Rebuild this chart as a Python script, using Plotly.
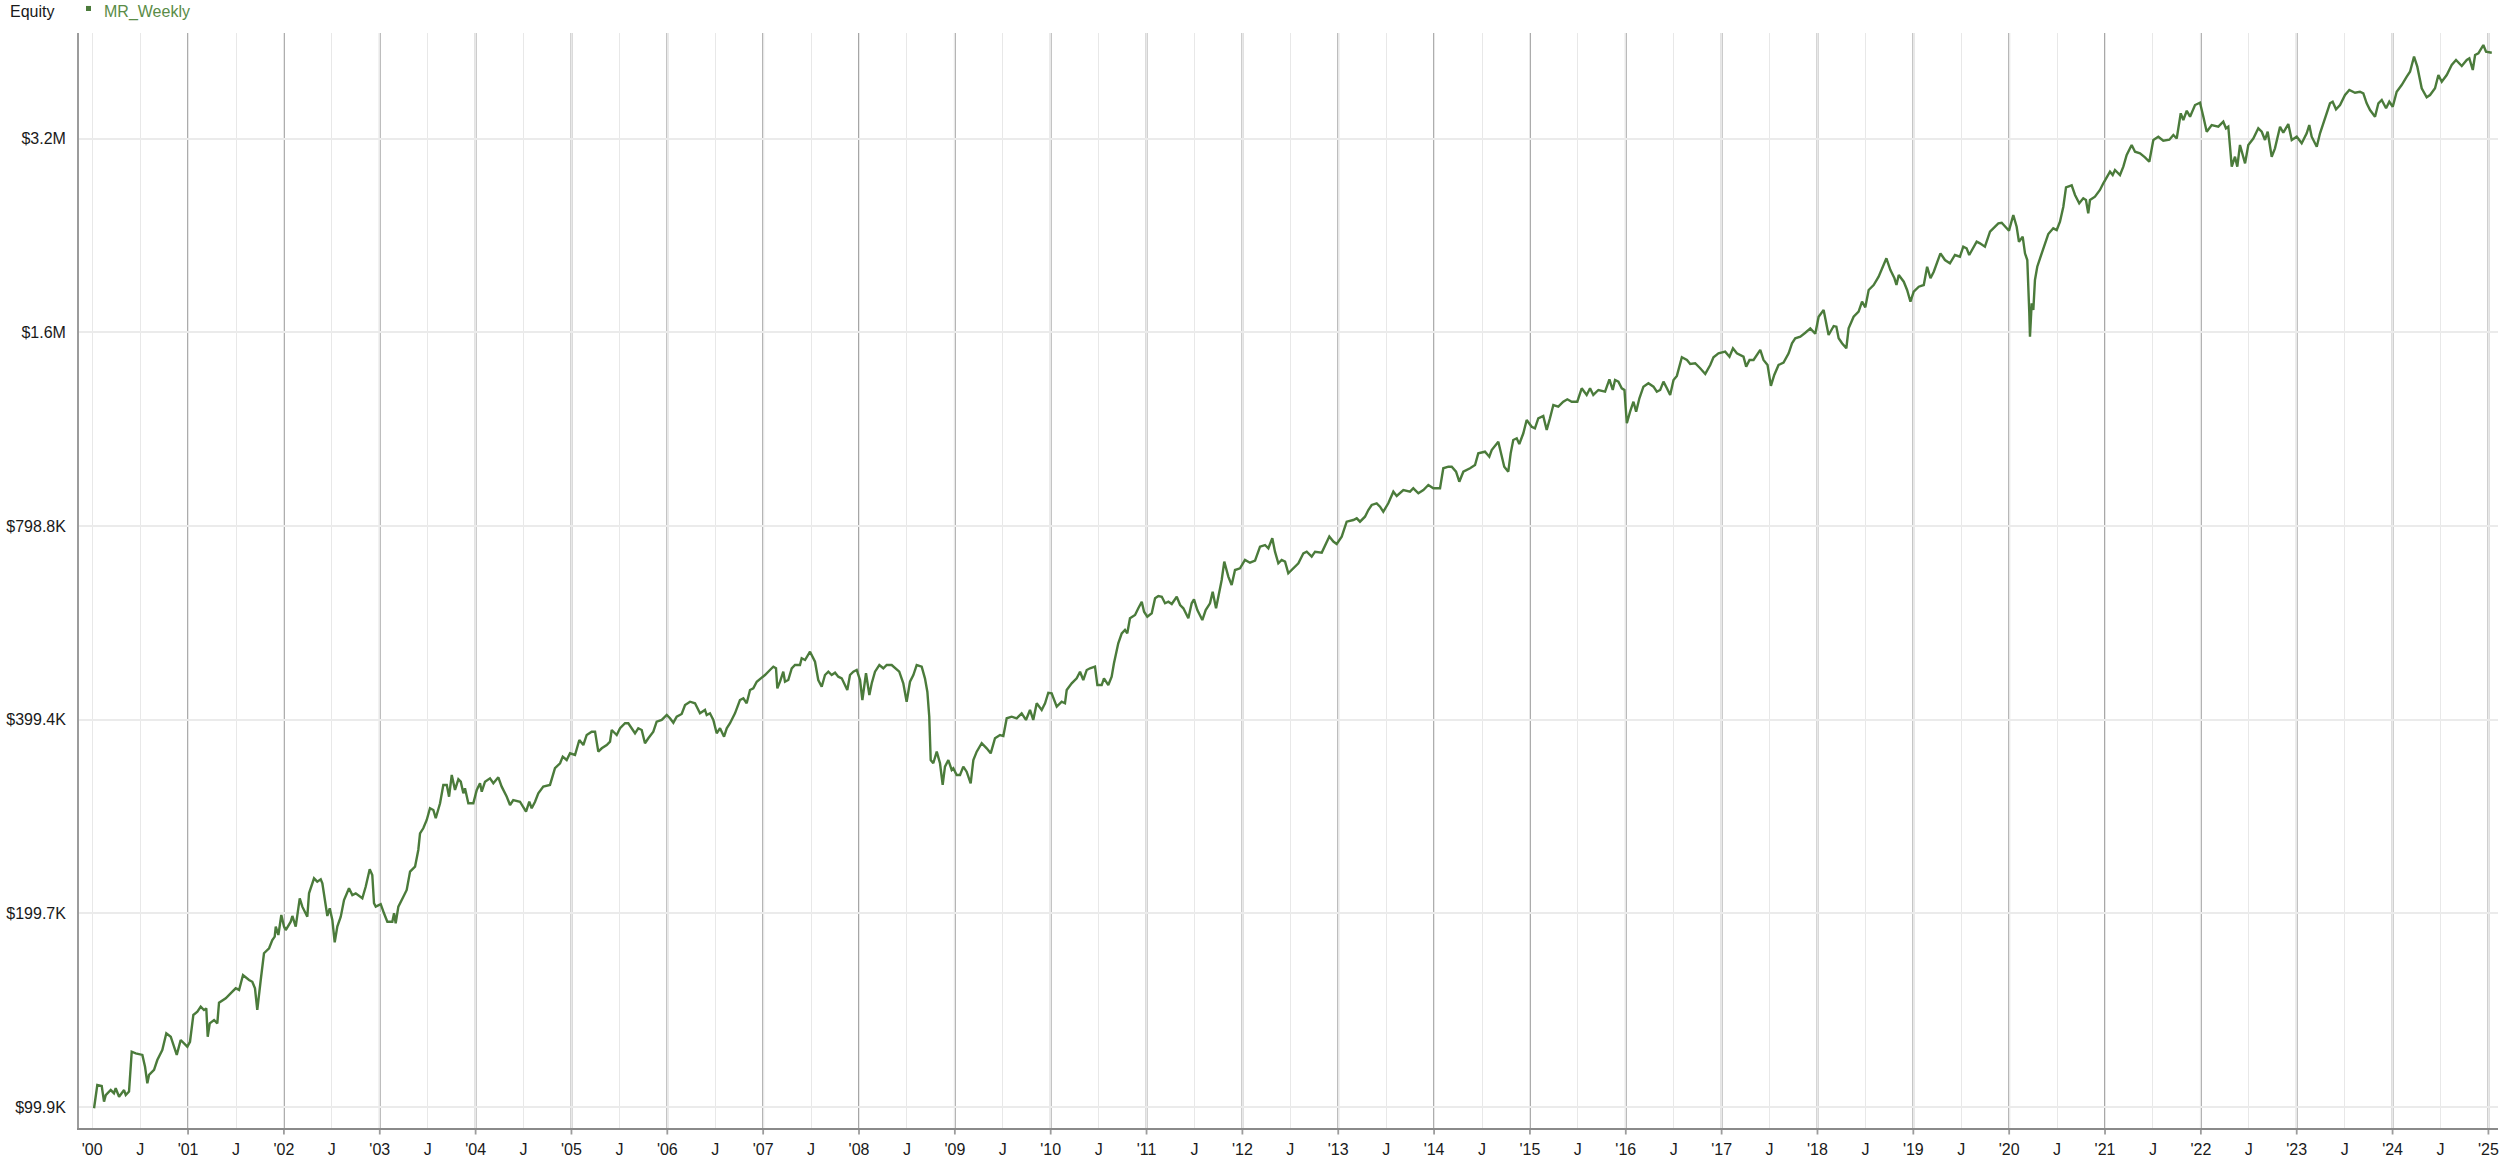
import plotly.graph_objects as go

# time in decimal years, equity in thousands of dollars
t_years = [
2000.019,2000.053,2000.099,2000.123,2000.141,2000.193,2000.227,2000.245,2000.280,2000.332,2000.350,2000.384,
2000.412,2000.454,2000.523,2000.551,2000.575,2000.593,2000.645,2000.679,2000.731,2000.773,2000.819,2000.853,
2000.882,2000.923,2000.958,2000.992,2001.020,2001.055,2001.097,2001.132,2001.166,2001.190,2001.205,2001.226,
2001.271,2001.305,2001.323,2001.393,2001.462,2001.497,2001.532,2001.573,2001.636,2001.670,2001.698,2001.722,
2001.758,2001.792,2001.845,2001.879,2001.904,2001.915,2001.942,2001.973,2002.001,2002.019,2002.071,2002.088,
2002.123,2002.165,2002.192,2002.244,2002.262,2002.314,2002.348,2002.384,2002.401,2002.436,2002.453,2002.478,
2002.505,2002.530,2002.557,2002.593,2002.627,2002.679,2002.714,2002.749,2002.818,2002.853,2002.895,2002.922,
2002.940,2002.958,2003.010,2003.044,2003.079,2003.131,2003.149,2003.166,
2003.194,2003.246,2003.281,2003.316,2003.368,2003.402,2003.420,2003.454,2003.490,2003.524,2003.559,2003.584,
2003.629,2003.663,2003.699,2003.723,2003.751,2003.785,2003.820,2003.845,2003.872,2003.889,2003.924,2003.976,
2004.012,2004.046,2004.064,2004.098,2004.150,2004.185,2004.237,2004.272,2004.325,2004.359,2004.393,2004.463,
2004.498,2004.526,2004.560,2004.585,2004.620,2004.654,2004.706,2004.776,2004.828,2004.881,2004.909,2004.950,
2004.985,2005.037,2005.082,2005.124,2005.159,2005.211,2005.246,2005.280,2005.316,2005.368,2005.402,2005.420,
2005.472,2005.507,2005.559,2005.593,2005.663,2005.697,2005.733,2005.767,2005.802,2005.854,2005.889,2005.942,
2005.994,2006.028,2006.063,2006.098,2006.150,2006.185,2006.237,2006.289,2006.341,2006.393,2006.411,2006.445,
2006.480,2006.515,2006.550,2006.592,2006.620,2006.654,2006.706,2006.758,2006.793,2006.828,2006.863,2006.897,
2006.933,2006.967,
2007.019,2007.071,2007.106,2007.134,2007.148,2007.176,2007.210,2007.228,2007.262,2007.298,2007.332,2007.384,
2007.402,2007.437,2007.489,2007.541,2007.575,2007.611,2007.645,2007.680,2007.715,2007.750,2007.784,2007.820,
2007.854,2007.878,2007.906,2007.941,2007.976,2008.011,2008.035,2008.052,2008.073,2008.108,2008.133,2008.167,
2008.212,2008.254,2008.289,2008.341,2008.376,2008.420,2008.462,2008.497,2008.532,2008.567,2008.602,2008.654,
2008.688,2008.713,2008.733,2008.748,2008.775,2008.811,2008.845,2008.873,2008.897,2008.932,2008.967,2008.984,
2009.019,2009.054,2009.088,2009.123,2009.165,2009.193,2009.228,2009.280,2009.332,2009.374,2009.419,2009.471,
2009.506,2009.541,2009.593,2009.645,2009.697,2009.742,2009.784,2009.818,2009.854,2009.906,2009.941,2009.975,
2010.010,2010.063,
2010.115,2010.149,2010.167,2010.219,2010.271,2010.306,2010.340,2010.376,2010.410,2010.462,2010.487,2010.532,
2010.556,2010.601,2010.636,2010.660,2010.705,2010.741,2010.775,2010.799,2010.827,2010.880,2010.914,2010.950,
2010.974,2011.008,2011.054,2011.089,2011.123,2011.159,2011.193,2011.228,2011.263,2011.315,2011.350,2011.384,
2011.436,2011.471,2011.495,2011.530,2011.582,2011.617,2011.662,2011.690,2011.725,2011.749,2011.784,2011.811,
2011.853,2011.888,2011.923,2011.975,2012.027,2012.079,2012.132,2012.184,2012.236,2012.271,2012.312,2012.340,
2012.375,2012.410,2012.445,2012.479,2012.532,2012.584,2012.636,2012.671,2012.723,2012.758,2012.828,2012.862,
2012.907,2012.949,2012.984,2013.036,2013.088,2013.157,2013.193,2013.227,2013.279,2013.314,2013.349,2013.401,
2013.436,2013.470,2013.522,2013.575,2013.610,2013.679,2013.749,2013.783,2013.836,2013.888,2013.940,2013.992,
2014.062,2014.096,2014.149,2014.184,2014.229,2014.263,2014.305,2014.375,2014.427,2014.461,2014.531,2014.576,
2014.601,2014.670,
2014.732,2014.774,2014.799,2014.826,2014.862,2014.889,2014.931,2014.966,2015.018,2015.052,2015.087,2015.139,
2015.175,2015.209,2015.244,2015.296,2015.348,2015.390,2015.436,2015.494,2015.540,2015.592,2015.627,2015.661,
2015.714,2015.784,2015.829,2015.864,2015.888,2015.923,2015.958,2015.986,2016.011,2016.045,2016.080,2016.108,
2016.142,2016.184,2016.236,2016.289,2016.324,2016.359,2016.393,2016.429,2016.463,2016.498,2016.533,2016.585,
2016.638,2016.672,2016.724,2016.776,2016.829,2016.881,2016.915,2016.967,2017.037,2017.082,2017.118,2017.159,
2017.228,2017.256,2017.291,2017.333,2017.403,2017.437,2017.479,2017.514,2017.549,2017.594,2017.646,2017.699,
2017.734,2017.768,2017.821,2017.873,2017.925,2017.977,2018.012,2018.064,2018.116,2018.169,2018.197,2018.221,
2018.256,2018.301,2018.325,2018.377,2018.429,2018.465,2018.499,2018.534,2018.586,2018.638,2018.674,2018.719,
2018.761,2018.803,2018.824,2018.848,2018.900,2018.935,2018.970,2019.004,2019.057,2019.109,2019.144,2019.179,
2019.213,2019.249,2019.283,2019.330,2019.382,2019.434,2019.486,
2019.521,2019.556,2019.583,2019.625,2019.661,2019.695,2019.747,2019.800,2019.852,2019.887,2019.922,2019.956,
2019.998,2020.043,2020.078,2020.102,2020.141,2020.165,2020.189,2020.210,2020.217,2020.235,2020.252,2020.269,
2020.293,2020.322,2020.356,2020.408,2020.460,2020.496,2020.530,2020.565,2020.593,2020.652,2020.687,2020.731,
2020.773,2020.801,2020.825,2020.843,2020.895,2020.947,2020.982,2021.017,2021.052,2021.080,2021.104,2021.156,
2021.191,2021.226,2021.278,2021.313,2021.365,2021.417,2021.462,2021.504,2021.556,2021.608,2021.671,2021.713,
2021.748,2021.790,2021.817,2021.853,2021.887,2021.939,2021.991,2022.026,2022.061,
2022.113,2022.182,2022.234,2022.262,2022.286,2022.322,2022.356,2022.380,2022.408,2022.461,2022.495,2022.547,
2022.599,2022.635,2022.669,2022.697,2022.739,2022.773,2022.826,2022.860,2022.912,2022.948,2023.000,2023.052,
2023.104,2023.131,2023.156,2023.209,2023.243,2023.295,2023.347,2023.375,2023.410,2023.452,2023.504,2023.549,
2023.608,2023.660,2023.695,2023.730,2023.765,2023.817,2023.852,2023.887,2023.932,2023.966,2024.002,2024.043,
2024.095,2024.148,2024.182,2024.224,2024.258,2024.304,2024.356,2024.391,2024.443,2024.478,2024.513,2024.565,
2024.617,2024.662,2024.722,2024.774,2024.801,2024.837,2024.861,2024.895,2024.947,2024.975,2025.035,
]

equity_k = [
99.4,108.0,107.6,101.8,104.2,106.1,104.9,106.8,103.6,106.1,104.2,105.5,
121.7,121.0,120.3,115.3,108.7,112.0,114.0,118.1,122.4,130.0,128.4,123.9,
120.3,126.9,125.4,123.9,126.1,138.8,140.4,143.0,141.3,142.1,128.4,134.7,
136.3,134.7,145.0,147.3,150.9,152.7,151.8,160.1,157.3,156.3,152.7,141.3,
157.3,173.1,176.2,181.5,183.7,190.4,184.8,198.5,190.4,188.1,193.8,197.8,
190.4,210.7,204.5,197.3,214.5,226.3,223.6,225.5,222.3,204.5,197.8,203.3,
195.0,180.0,190.4,197.3,209.4,218.4,213.2,214.5,210.7,219.6,233.8,229.0,
207.0,204.5,206.4,199.7,193.8,193.8,199.7,192.7,
204.5,211.9,217.1,231.8,236.0,250.5,265.9,270.7,278.9,290.8,289.0,280.6,
296.0,316.1,316.1,303.1,327.6,310.5,322.6,319.8,306.8,312.4,296.0,296.0,
310.5,318.0,308.6,319.8,323.7,318.0,324.9,314.2,303.1,294.2,299.5,297.7,
292.4,287.3,297.7,290.8,297.7,306.8,314.2,316.1,335.6,341.6,349.8,345.6,
354.0,351.9,371.3,364.7,378.0,382.5,382.5,356.1,360.4,364.7,369.1,384.8,
378.0,387.2,394.2,394.2,380.3,387.2,384.8,367.0,373.6,382.5,396.4,398.9,
406.0,401.3,395.0,403.6,407.5,420.8,425.8,423.4,408.5,413.4,406.0,408.5,
398.9,380.3,387.2,375.7,387.2,394.2,408.5,428.4,431.0,423.4,444.0,446.7,
457.4,461.3,
468.5,477.0,482.7,479.9,446.7,457.4,474.1,457.4,460.2,479.9,485.6,485.6,
497.4,494.3,509.3,491.3,460.2,449.3,468.5,474.1,468.5,472.4,465.7,463.0,
452.0,444.0,468.5,474.1,477.0,460.2,428.4,449.3,471.4,436.1,454.8,474.1,
485.6,479.9,485.6,485.6,479.9,474.1,454.8,425.8,457.4,468.5,485.6,482.7,
463.0,441.3,403.6,345.6,341.6,356.1,341.6,316.1,337.5,345.6,333.5,335.6,
327.6,327.6,337.5,331.5,318.0,345.6,356.1,367.0,360.4,354.0,373.6,378.0,
376.6,401.3,403.6,401.3,408.5,398.9,413.4,398.9,423.4,413.4,423.4,439.7,
438.8,418.3,
425.8,423.4,444.0,454.8,463.0,474.1,460.2,477.0,479.9,482.7,452.0,452.0,
463.0,452.0,465.7,488.5,524.8,543.9,550.4,543.9,573.9,580.7,594.8,609.0,
587.6,577.2,584.3,616.5,621.6,620.0,605.6,609.0,604.0,620.0,601.9,594.8,
573.9,605.6,614.3,591.2,570.4,591.2,605.6,631.2,594.8,620.0,658.3,702.8,
666.1,646.5,682.2,686.4,707.1,700.2,705.3,741.5,746.0,737.3,764.2,728.4,
698.7,707.1,702.8,674.2,686.4,698.7,724.2,728.4,715.7,728.4,726.0,746.0,
768.8,755.2,748.7,768.8,810.9,815.8,820.8,810.9,825.6,845.6,860.9,866.1,
855.6,840.4,866.1,902.8,889.0,908.3,902.8,913.9,897.6,908.3,924.7,913.9,
913.9,981.7,987.3,987.3,969.8,935.7,969.8,981.7,993.3,1035.7,1041.7,1023.3,
1048.0,1079.7,
987.3,969.8,1035.7,1086.4,1093.0,1071.0,1112.7,1166.8,1139.2,1132.7,1174.0,1183.7,
1125.8,1174.0,1231.2,1223.7,1245.8,1256.7,1245.8,1245.8,1307.1,1276.2,1307.1,1276.2,
1299.2,1291.4,1350.0,1299.2,1346.6,1338.5,1307.1,1299.2,1153.4,1202.3,1245.8,1202.3,
1261.3,1314.8,1331.0,1314.8,1291.4,1299.2,1338.5,1307.1,1276.2,1346.6,1366.2,1460.7,
1446.6,1426.0,1429.6,1404.3,1376.0,1420.9,1460.7,1481.6,1490.1,1463.7,1508.5,1481.6,
1463.7,1412.4,1446.6,1446.6,1499.3,1446.6,1420.9,1318.3,1371.1,1420.9,1432.7,1481.6,
1535.7,1563.4,1572.5,1594.7,1620.0,1588.5,1688.7,1729.7,1581.6,1633.4,1629.4,1563.4,
1535.7,1508.5,1620.0,1688.7,1719.2,1781.8,1746.5,1858.0,1891.6,1948.6,2008.0,2081.2,
1995.8,1937.6,1891.6,1960.4,1914.1,1858.0,1781.8,1846.7,1880.1,1891.6,2019.5,1937.6,
1983.8,2056.1,2118.8,2068.4,2044.3,2106.0,2093.2,
2169.6,2157.1,2106.0,2157.1,2208.7,2196.1,2169.6,2289.0,2330.4,2358.8,2364.0,2330.4,
2297.4,2430.1,2330.4,2208.7,2248.5,2118.8,2068.4,1709.4,1572.0,1771.7,1729.7,1925.8,
2019.5,2081.2,2157.1,2270.4,2317.0,2303.0,2372.6,2503.3,2683.5,2702.7,2610.3,2534.0,
2579.7,2564.0,2444.8,2564.0,2594.5,2657.8,2722.2,2787.0,2837.4,2804.1,2854.8,2804.1,
2888.6,3012.1,3121.7,3047.9,3030.5,2987.2,2940.5,3178.1,3215.9,3170.3,3182.0,3235.4,
3195.2,3496.8,3413.8,3529.4,3454.7,3601.9,3632.0,3454.7,3273.8,
3353.4,3332.9,3393.3,3314.1,3332.9,2888.8,2993.6,2888.8,3121.7,2923.9,3121.7,3195.2,
3314.1,3273.8,3178.7,3273.8,2993.6,3085.0,3332.9,3262.2,3365.4,3178.7,3215.9,3140.9,
3255.2,3353.4,3215.9,3102.9,3255.2,3434.5,3624.0,3645.1,3547.0,3601.9,3733.3,3800.7,
3764.0,3777.7,3756.2,3624.0,3538.1,3454.7,3624.0,3667.4,3559.8,3645.1,3580.3,3777.7,
3869.4,3986.0,4058.2,4282.3,4131.8,3824.0,3702.9,3733.3,3824.0,4010.3,3915.4,4010.3,
4156.6,4231.4,4141.9,4231.4,4257.3,4082.5,4308.1,4334.3,4465.0,4358.9,4343.5,
]

equity = [v * 1000 for v in equity_k]

years = list(range(2000, 2026))
year_labels = ["'%02d" % (y % 100) for y in years]
july_positions = [y + 0.5 for y in years[:-1]]

y_tickvals = [99850, 199700, 399400, 798800, 1597600, 3195200]
y_ticktext = ["$99.9K", "$199.7K", "$399.4K", "$798.8K", "$1.6M", "$3.2M"]

tickvals = []
ticktext = []
for i, y in enumerate(years):
    tickvals.append(y)
    ticktext.append(year_labels[i])
    if y + 0.5 in july_positions:
        tickvals.append(y + 0.5)
        ticktext.append("J")

LINE = "#4b7b3b"
FONT = "Arial, Liberation Sans, sans-serif"

fig = go.Figure()
fig.add_trace(go.Scatter(
    x=t_years, y=equity, mode="lines", name="MR_Weekly",
    line=dict(color=LINE, width=2.4), showlegend=False,
))

shapes = []
for y in years[1:]:
    shapes.append(dict(type="line", xref="x", yref="paper", x0=y, x1=y, y0=-0.006, y1=1,
                       line=dict(color="#9c9c9c", width=1.8), layer="below"))
# legend marker square
shapes.append(dict(type="rect", xref="paper", yref="paper",
                   x0=0.00289, x1=0.00496, y0=1.0201, y1=1.0247,
                   fillcolor=LINE, line=dict(width=0)))

fig.update_layout(
    width=2500, height=1161,
    margin=dict(l=79, r=2, t=33, b=33),
    paper_bgcolor="white", plot_bgcolor="white",
    font=dict(family=FONT, size=16, color="#1a1a1a"),
    shapes=shapes,
    xaxis=dict(
        range=[1999.862, 2025.100],
        tickmode="array", tickvals=tickvals, ticktext=ticktext,
        showgrid=True, gridcolor="#e8e8e8", gridwidth=1.2,
        showline=True, linecolor="#8a8a8a", linewidth=2,
        ticks="outside", ticklen=6, tickcolor="rgba(0,0,0,0)",
        zeroline=False, tickfont=dict(size=16, color="#1a1a1a"),
    ),
    yaxis=dict(
        type="log",
        range=[4.96670, 6.66848],
        tickmode="array", tickvals=y_tickvals, ticktext=y_ticktext,
        showgrid=True, gridcolor="#ebebeb", gridwidth=1.5,
        showline=True, linecolor="#9c9c9c", linewidth=1.8,
        ticks="", ticklabelstandoff=8,
        zeroline=False, tickfont=dict(size=16, color="#1a1a1a"),
    ),
    annotations=[
        dict(text="Equity", xref="paper", yref="paper", x=-0.0294, y=1.0192,
             xanchor="left", yanchor="middle", showarrow=False,
             font=dict(size=16, color="#1a1a1a", family=FONT)),
        dict(text="MR_Weekly", xref="paper", yref="paper", x=0.0095, y=1.0192,
             xanchor="left", yanchor="middle", showarrow=False,
             font=dict(size=16, color="#5a8c47", family=FONT)),
    ],
)

fig.write_html("out.html", config={"displayModeBar": False},
               post_script="document.body.style.margin='0';")
